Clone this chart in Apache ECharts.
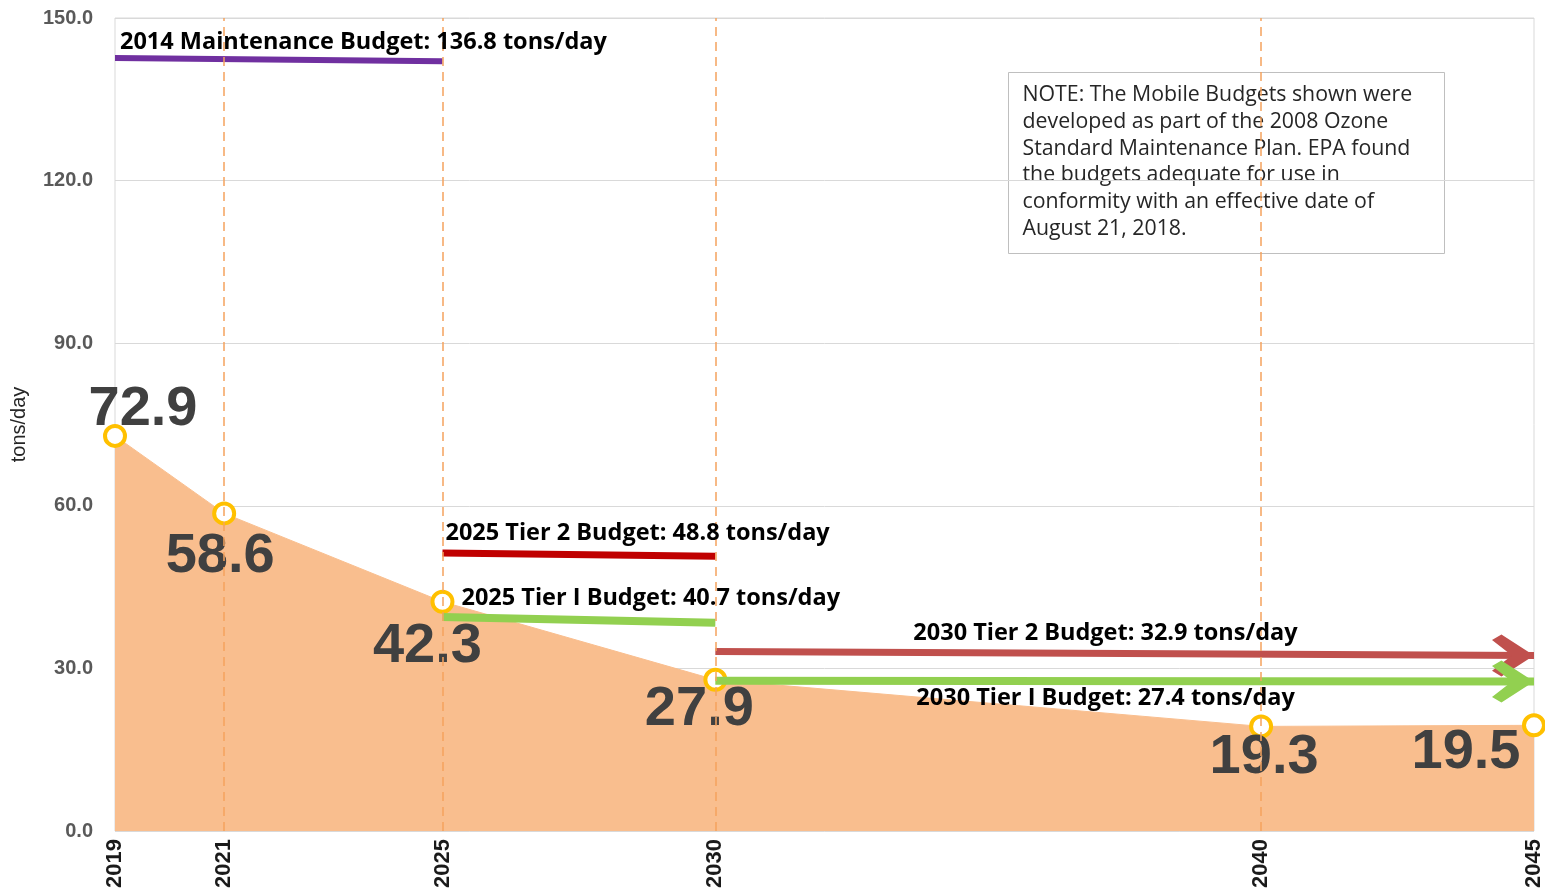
<!DOCTYPE html>
<html>
<head>
<meta charset="utf-8">
<script src="https://cdn.jsdelivr.net/npm/echarts@6/dist/echarts.min.js"></script>
<style>
  html, body { margin: 0; padding: 0; background: #fff; }
  #chart { width: 1545px; height: 896px; }
</style>
</head>
<body>
<div id="chart"></div>
<script>
// emissions per year
const years = [2019, 2021, 2025, 2030, 2040, 2045];
const emissions = [72.9, 58.6, 42.3, 27.9, 19.3, 19.5];
const dashedYears = [2021, 2025, 2030, 2040];

// budget lines (as drawn)
const maintYears = [2019, 2025];
const maintValues = [142.6, 142.0];
const tier2Of2025Years = [2025, 2030];
const tier2Of2025Values = [51.3, 50.7];
const tier1Of2025Years = [2025, 2030];
const tier1Of2025Values = [39.5, 38.4];
const tier2Of2030Years = [2030, 2045];
const tier2Of2030Values = [33.1, 32.4];
const tier1Of2030Years = [2030, 2045];
const tier1Of2030Values = [27.7, 27.6];

const budgetLabels = [
  '2014 Maintenance Budget: 136.8 tons/day',
  '2025 Tier 2 Budget: 48.8 tons/day',
  '2025 Tier I Budget: 40.7 tons/day',
  '2030 Tier 2 Budget: 32.9 tons/day',
  '2030 Tier I Budget: 27.4 tons/day'
]
const noteText = 'NOTE: The Mobile Budgets shown were\ndeveloped as part of the 2008 Ozone\nStandard Maintenance Plan. EPA found\nthe budgets adequate for use in\nconformity with an effective date of\nAugust 21, 2018.'

// where the big value labels sit relative to their point
const valueLabelOffsets = [[28, -26], [-4, 43], [-15, 45], [-16, 30], [3, 31], [-68, 27]]

// open arrow head, drawn as a filled chevron
const chevron = 'path://M9,0 L40,19 L9,38 L0,33 L19,19 L0,5 Z'
const boldFont = 'Liberation Sans'

const chart = echarts.init(document.getElementById('chart'))

function budgetSerie(xs, ys, color, width, label, offset, arrow) {
  const data = xs.map((x, i) => {
    const item = { value: [x, ys[i]], symbol: 'none' }
    if (arrow && i === xs.length - 1) {
      item.symbol = chevron
      item.symbolSize = [42, 42]
      item.symbolOffset = [-21, 0]
      item.itemStyle = { color: color, borderWidth: 0 }
    }
    return item
  })
  return {
    type: 'line',
    data: data,
    showSymbol: true,
    symbol: 'none',
    lineStyle: { color: color, width: width },
    itemStyle: { color: color },
    z: 3,
    silent: true,
    markPoint: {
      symbol: 'circle',
      symbolSize: 2,
      itemStyle: { color: 'rgba(0,0,0,0)' },
      data: [{
        coord: [xs[0], ys[0]],
        label: {
          show: true,
          position: 'inside',
          align: 'left',
          verticalAlign: 'middle',
          offset: offset,
          formatter: label,
          color: '#000',
          fontFamily: 'Open Sans',
          fontWeight: 'bold',
          fontSize: 23.5
        }
      }]
    }
  }
}

chart.setOption({
  animation: false,
  grid: {
    left: 115,
    right: 10,
    top: 18,
    bottom: 65,
    show: true,
    borderColor: '#D9D9D9',
    borderWidth: 1
  },
  xAxis: {
    type: 'value',
    min: 2019,
    max: 2045,
    axisLine: { show: false },
    axisTick: { show: false },
    splitLine: { show: false },
    axisLabel: {
      customValues: years,
      formatter: (v) => String(v),
      rotate: 90,
      margin: 8,
      color: '#1a1a1a',
      fontFamily: boldFont,
      fontWeight: 'bold',
      fontSize: 22
    }
  },
  yAxis: {
    type: 'value',
    min: 0,
    max: 150,
    interval: 30,
    name: 'tons/day',
    nameLocation: 'middle',
    nameRotate: 90,
    nameGap: 86,
    nameTextStyle: { color: '#262626', fontSize: 20, fontFamily: 'Liberation Sans' },
    axisLine: { show: false },
    axisTick: { show: false },
    splitLine: { lineStyle: { color: '#D9D9D9', width: 1 } },
    axisLabel: {
      formatter: (v) => v.toFixed(1),
      margin: 22,
      color: '#595959',
      fontFamily: boldFont,
      fontWeight: 'bold',
      fontSize: 20
    }
  },
  series: [
    {
      type: 'line',
      data: years.map((y, i) => ({
        value: [y, emissions[i]],
        label: { offset: valueLabelOffsets[i] }
      })),
      symbol: 'circle',
      symbolSize: 20,
      showAllSymbol: true,
      itemStyle: { color: '#fff', borderColor: '#FFC000', borderWidth: 4 },
      lineStyle: { color: '#F9BE8E', width: 1 },
      areaStyle: { color: '#F9BE8E', opacity: 1 },
      z: 2,
      label: {
        show: true,
        position: 'inside',
        align: 'center',
        verticalAlign: 'middle',
        color: '#404040',
        fontFamily: boldFont,
        fontWeight: 'bold',
        fontSize: 56,
        formatter: (p) => p.value[1].toFixed(1)
      },
      markLine: {
        silent: true,
        symbol: 'none',
        label: { show: false },
        lineStyle: { color: '#F5A25D', type: [9, 6], width: 1.5 },
        data: dashedYears.map((y) => ({ xAxis: y }))
      }
    },
    budgetSerie(maintYears, maintValues, '#7030A0', 6, budgetLabels[0], [5, -16], false),
    budgetSerie(tier2Of2025Years, tier2Of2025Values, '#C00000', 7, budgetLabels[1], [3, -20], false),
    budgetSerie(tier1Of2025Years, tier1Of2025Values, '#92D050', 8, budgetLabels[2], [19, -19], false),
    budgetSerie(tier2Of2030Years, tier2Of2030Values, '#C0504D', 7, budgetLabels[3], [198, -18], true),
    budgetSerie(tier1Of2030Years, tier1Of2030Values, '#92D050', 8, budgetLabels[4], [201, 17], true)
  ],
  graphic: [
    {
      type: 'group',
      left: 1008,
      top: 72,
      z: 10,
      children: [
        {
          type: 'rect',
          shape: { x: 0, y: 0, width: 436, height: 181 },
          style: { fill: '#fff', stroke: '#BFBFBF', lineWidth: 1 }
        },
        {
          type: 'text',
          x: 14,
          y: 9,
          style: {
            text: noteText,
            fill: '#262626',
            font: '21.3px "Open Sans"',
            lineHeight: 26.8
          }
        }
      ]
    }
  ]
})
</script>
</body>
</html>
